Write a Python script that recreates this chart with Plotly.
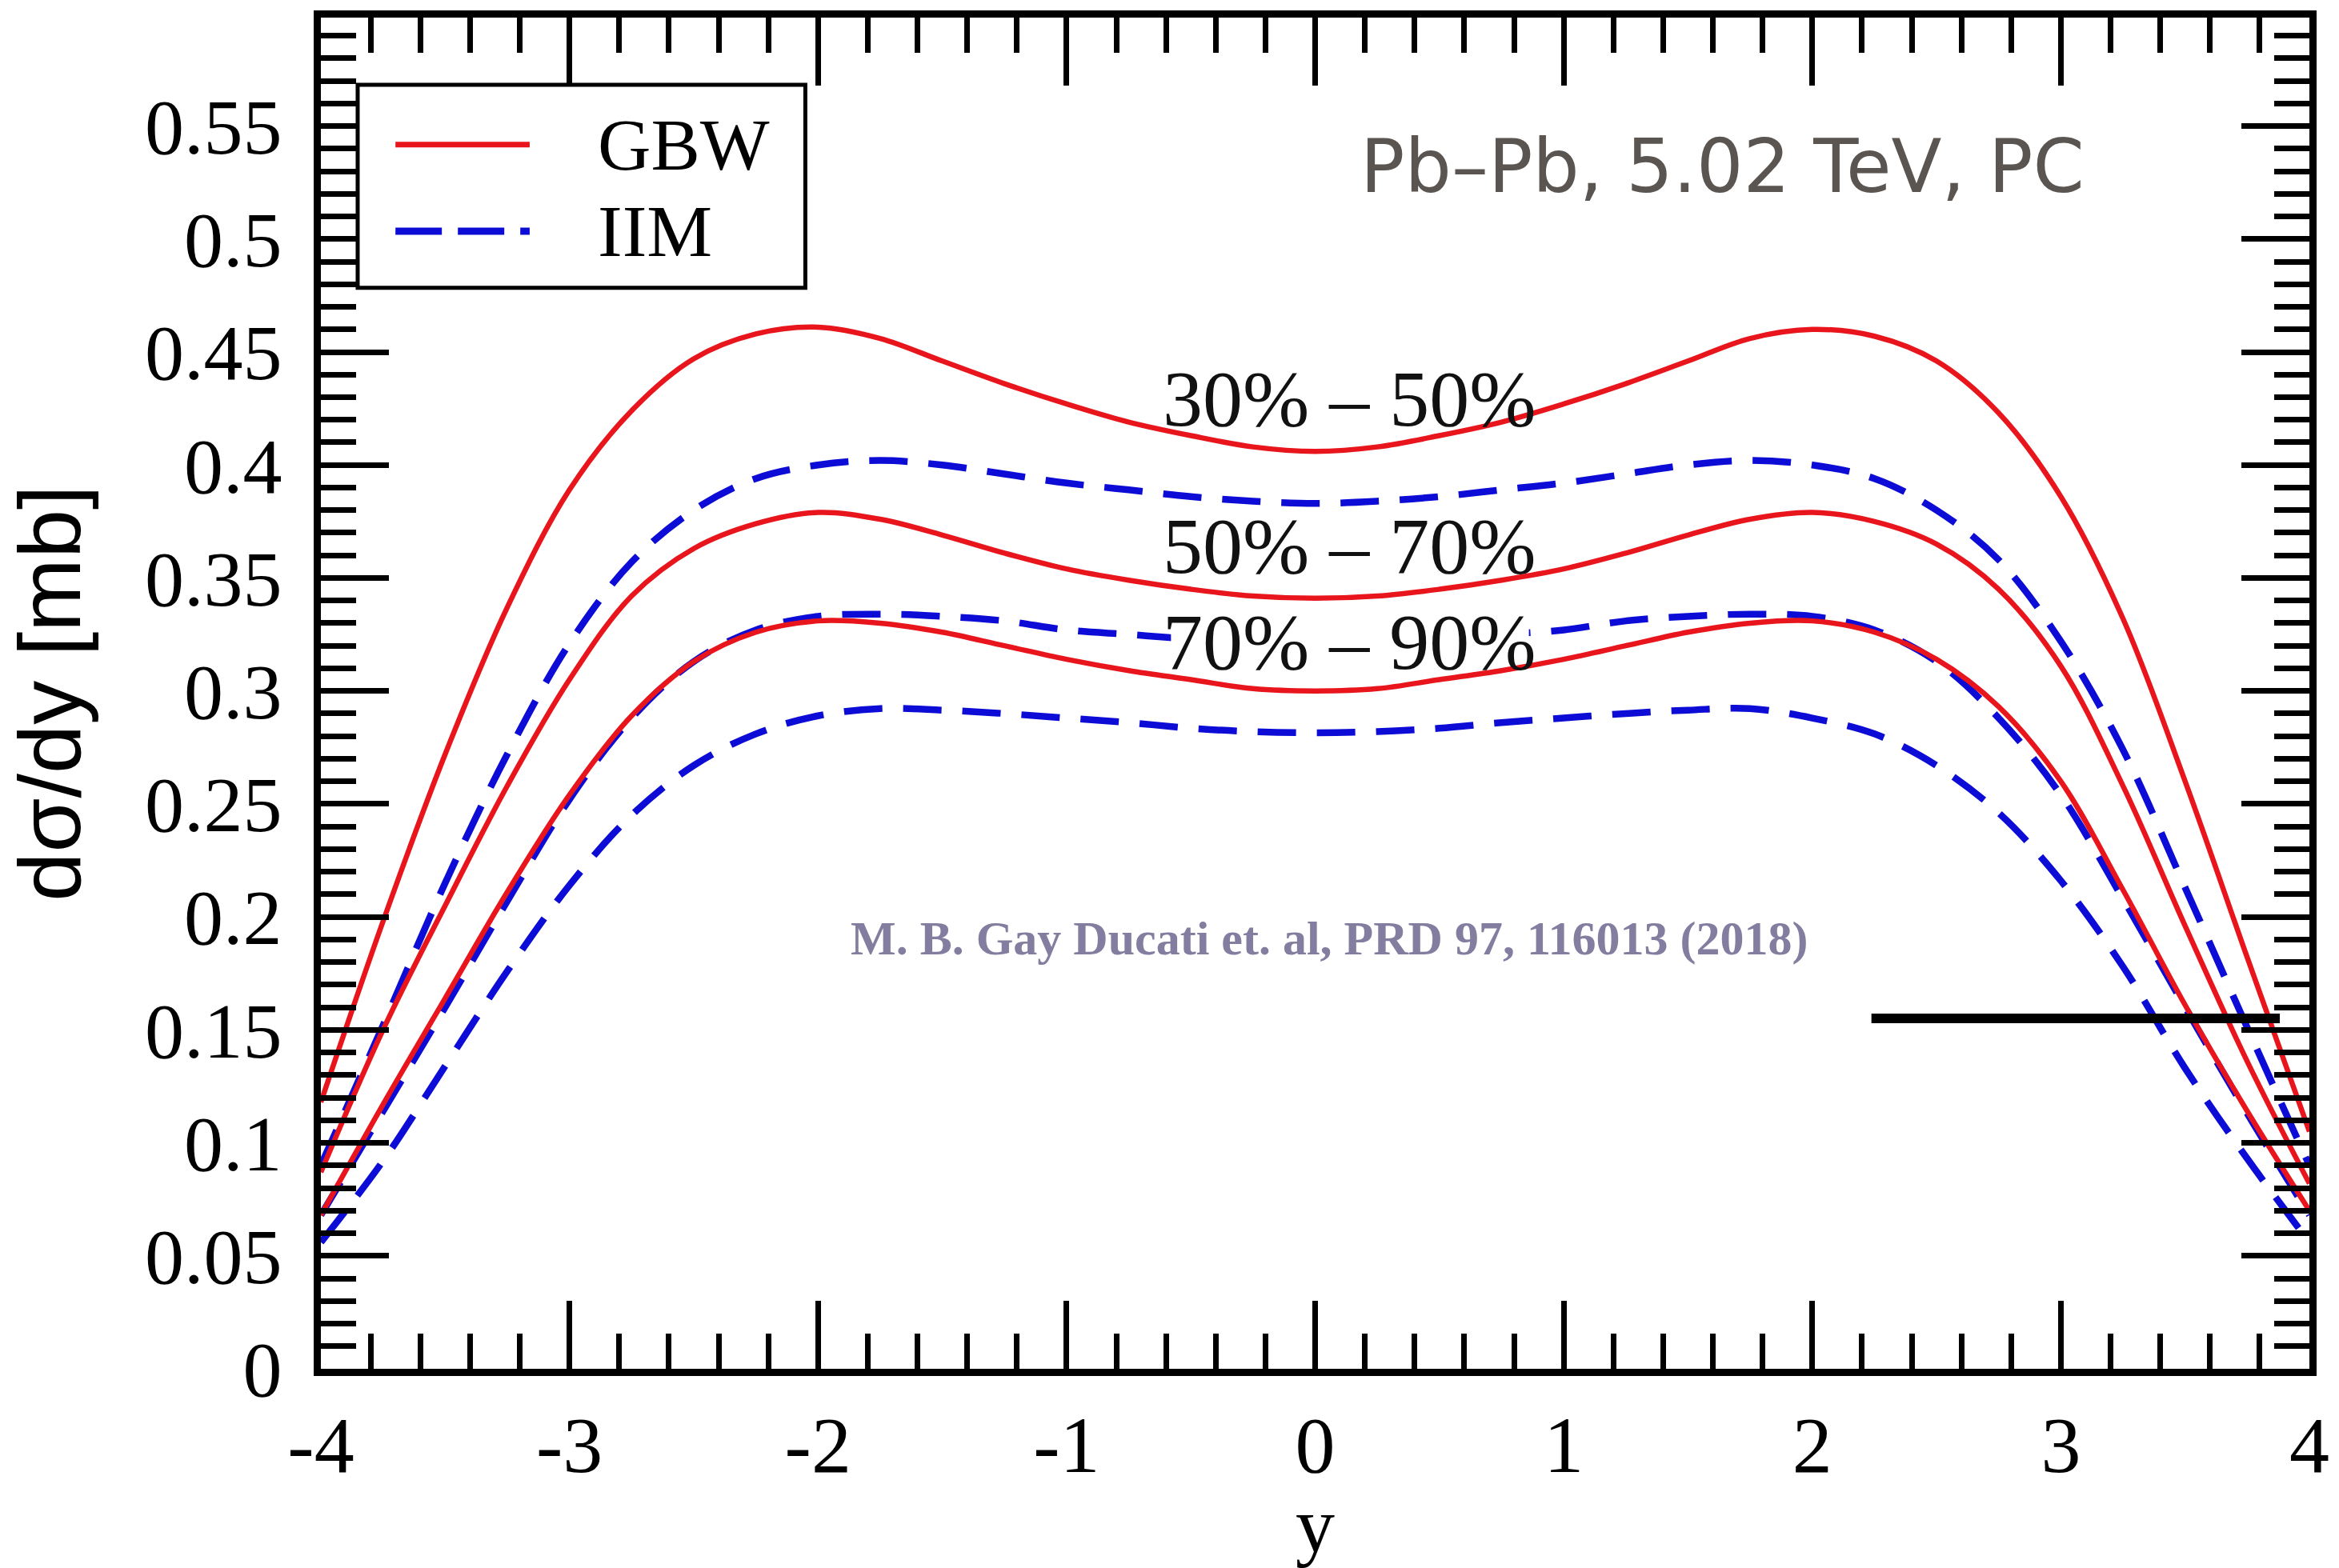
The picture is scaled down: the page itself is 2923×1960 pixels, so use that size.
import plotly.graph_objects as go

# ---------------- data ----------------
rapidity = [-4, -3.75, -3.5, -3.25, -3, -2.75, -2.5, -2.25, -2, -1.75, -1.5, -1.25, -1, -0.75, -0.5, -0.25, 0,
            0.25, 0.5, 0.75, 1, 1.25, 1.5, 1.75, 2, 2.25, 2.5, 2.75, 3, 3.25, 3.5, 3.75, 4]

gbw_30_50 = [0.118, 0.198, 0.272, 0.337, 0.389, 0.424, 0.447, 0.458, 0.461, 0.456, 0.446, 0.436, 0.427, 0.419, 0.413, 0.408, 0.406,
             0.408, 0.413, 0.419, 0.427, 0.436, 0.446, 0.456, 0.460, 0.457, 0.446, 0.423, 0.386, 0.332, 0.260, 0.182, 0.105]
gbw_50_70 = [0.087, 0.150, 0.205, 0.258, 0.305, 0.342, 0.363, 0.374, 0.379, 0.376, 0.369, 0.361, 0.354, 0.349, 0.345, 0.342, 0.341,
             0.342, 0.345, 0.349, 0.354, 0.361, 0.369, 0.376, 0.379, 0.375, 0.365, 0.345, 0.311, 0.258, 0.196, 0.136, 0.082]
gbw_70_90 = [0.068, 0.117, 0.164, 0.211, 0.254, 0.289, 0.313, 0.326, 0.331, 0.330, 0.326, 0.320, 0.314, 0.309, 0.305, 0.301, 0.300,
             0.301, 0.305, 0.309, 0.314, 0.320, 0.326, 0.330, 0.331, 0.326, 0.314, 0.293, 0.260, 0.212, 0.161, 0.114, 0.070]
iim_30_50 = [0.090, 0.152, 0.215, 0.272, 0.321, 0.357, 0.380, 0.394, 0.400, 0.402, 0.400, 0.396, 0.392, 0.389, 0.386, 0.384, 0.383,
             0.384, 0.386, 0.389, 0.392, 0.396, 0.400, 0.402, 0.400, 0.394, 0.380, 0.358, 0.322, 0.274, 0.213, 0.151, 0.090]
iim_50_70 = [0.068, 0.114, 0.160, 0.207, 0.252, 0.288, 0.313, 0.327, 0.333, 0.334, 0.333, 0.331, 0.327, 0.325, 0.323, 0.322, 0.3215,
             0.322, 0.323, 0.325, 0.327, 0.331, 0.333, 0.334, 0.333, 0.327, 0.313, 0.288, 0.254, 0.208, 0.160, 0.113, 0.068]
iim_70_90 = [0.056, 0.092, 0.134, 0.176, 0.214, 0.245, 0.267, 0.281, 0.289, 0.2922, 0.2915, 0.290, 0.288, 0.286, 0.2835, 0.282, 0.2815,
             0.282, 0.2835, 0.286, 0.288, 0.290, 0.2915, 0.2922, 0.288, 0.281, 0.267, 0.246, 0.216, 0.178, 0.133, 0.093, 0.056]

x_tickvals = [-4, -3, -2, -1, 0, 1, 2, 3, 4]
x_ticktext = ["-4", "-3", "-2", "-1", "0", "1", "2", "3", "4"]

legend_labels = ["GBW", "IIM"]
centrality_labels = ["30% \u2013 50%", "50% \u2013 70%", "70% \u2013 90%"]
centrality_label_x = [0.138, 0.138, 0.138]
centrality_label_y = [0.4292, 0.364, 0.3215]

title_text = "Pb\u2013Pb, 5.02 TeV, PC"
citation_text = "M. B. Gay Ducati et. al, PRD 97, 116013 (2018)"

bar_x = [2.238, 3.881]
bar_y = 0.1551

# ---------------- styles ----------------
RED = "#e8161c"
BLUE = "#0c0cd6"
SERIF = "Liberation Serif, Times New Roman, serif"
SANS = "Liberation Sans, Arial, sans-serif"

fig = go.Figure()

gbw_series = [("GBW 30%-50%", gbw_30_50), ("GBW 50%-70%", gbw_50_70), ("GBW 70%-90%", gbw_70_90)]
iim_series = [("IIM 30%-50%", iim_30_50), ("IIM 50%-70%", iim_50_70), ("IIM 70%-90%", iim_70_90)]

for name, vals in iim_series:
    fig.add_trace(go.Scatter(x=rapidity, y=vals, mode="lines", name=name, showlegend=False,
                             line=dict(color=BLUE, width=8.5, dash="48px,26px", shape="spline", smoothing=1.0)))
for name, vals in gbw_series:
    fig.add_trace(go.Scatter(x=rapidity, y=vals, mode="lines", name=name, showlegend=False,
                             line=dict(color=RED, width=6.5, shape="spline", smoothing=1.0)))

shapes = []
# legend box
shapes.append(dict(type="rect", xref="x", yref="y", x0=-3.852, x1=-2.051, y0=0.4784, y1=0.5683,
                   line=dict(color="black", width=5), fillcolor="white", layer="above"))
shapes.append(dict(type="line", xref="x", yref="y", x0=-3.70, x1=-3.16, y0=0.5418, y1=0.5418,
                   line=dict(color=RED, width=7), layer="above"))
shapes.append(dict(type="line", xref="x", yref="y", x0=-3.70, x1=-3.16, y0=0.5035, y1=0.5035,
                   line=dict(color=BLUE, width=9, dash="58px,20px"), layer="above"))
# white patch behind the 70%-90% label
shapes.append(dict(type="rect", xref="x", yref="y", x0=-0.58, x1=0.86, y0=0.3125, y1=0.3335,
                   line=dict(width=0), fillcolor="white", layer="above"))
# black horizontal bar
shapes.append(dict(type="line", xref="x", yref="y", x0=bar_x[0], x1=bar_x[1], y0=bar_y, y1=bar_y,
                   line=dict(color="black", width=12), layer="above"))

annotations = []
for lab, ly in zip(legend_labels, [0.5418, 0.5035]):
    annotations.append(dict(text=lab, x=-2.892, y=ly, xref="x", yref="y", xanchor="left", yanchor="middle",
                            showarrow=False, font=dict(family=SERIF, size=92, color="black")))
for lab, lx, ly in zip(centrality_labels, centrality_label_x, centrality_label_y):
    annotations.append(dict(text=lab, x=lx, y=ly, xref="x", yref="y", xanchor="center", yanchor="middle",
                            showarrow=False, font=dict(family=SERIF, size=100, color="#111111")))
annotations.append(dict(text=title_text, x=1.64, y=0.532, xref="x", yref="y", xanchor="center", yanchor="middle",
                        showarrow=False, font=dict(family="DejaVu Sans, sans-serif", size=92, color="#5a5550")))
annotations.append(dict(text="<b>" + citation_text + "</b>", x=0.058, y=0.1905, xref="x", yref="y",
                        xanchor="center", yanchor="middle", showarrow=False,
                        font=dict(family=SERIF, size=60, color="#837d9f")))

fig.update_layout(
    width=2923, height=1960,
    margin=dict(l=401, r=29, t=22, b=249),
    paper_bgcolor="white", plot_bgcolor="white",
    shapes=shapes, annotations=annotations,
    showlegend=False,
)

fig.update_xaxes(
    range=[-4, 4], showgrid=False, zeroline=False,
    showline=True, linecolor="black", linewidth=9, mirror="allticks",
    ticks="inside", ticklen=85, tickwidth=7, tickcolor="black",
    tickvals=x_tickvals, ticktext=x_ticktext, ticklabelstandoff=0,
    tickfont=dict(family=SERIF, size=100, color="black"),
    minor=dict(dtick=0.2, tick0=0, ticks="inside", ticklen=44, tickwidth=7, tickcolor="black", showgrid=False),
    title=dict(text="y", font=dict(family=SERIF, size=98, color="black"), standoff=10),
)
fig.update_yaxes(
    range=[0, 0.598], showgrid=False, zeroline=False,
    showline=True, linecolor="black", linewidth=9, mirror="allticks",
    ticks="inside", ticklen=85, tickwidth=7, tickcolor="black",
    tick0=0, dtick=0.05, ticklabelstandoff=20,
    tickfont=dict(family=SERIF, size=98, color="black"),
    minor=dict(dtick=0.01, tick0=0, ticks="inside", ticklen=44, tickwidth=7, tickcolor="black", showgrid=False),
    title=dict(text="d\u03c3/dy [mb]", font=dict(family=SANS, size=110, color="black"), standoff=66),
)

fig.write_html("out.html")
